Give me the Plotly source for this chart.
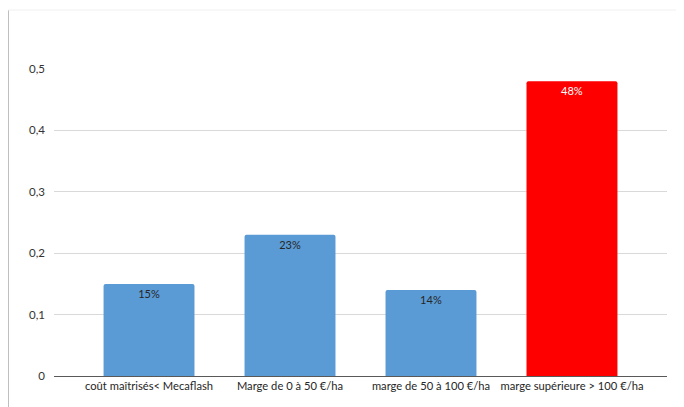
import plotly.graph_objects as go

categories = ["coût maîtrisés< Mecaflash", "Marge de 0 à 50 €/ha", "marge de 50 à 100 €/ha", "marge supérieure > 100 €/ha"]
values = [0.15, 0.23, 0.14, 0.48]
labels = ["15%", "23%", "14%", "48%"]
colors = ["#5B9BD5", "#5B9BD5", "#5B9BD5", "#FF0000"]
label_colors = ["#262626", "#262626", "#262626", "#FFFFFF"]
tick_vals = [0, 0.1, 0.2, 0.3, 0.4, 0.5]
tick_text = ["0", "0,1", "0,2", "0,3", "0,4", "0,5"]

# page body has an 8px margin, so the figure is drawn 8px in and down
W, H = 676, 399
L, R, T, B = 46, 17, 61, 31
pw, ph = W - L - R, H - T - B

fig = go.Figure(go.Bar(
    x=list(range(len(categories))), y=values, text=labels,
    width=0.645,
    marker=dict(color=colors, line=dict(width=0)),
    textposition="inside", insidetextanchor="end",
    textfont=dict(color=label_colors, size=11, family="Lato"),
    cliponaxis=False,
))

fig.update_layout(
    width=W, height=H,
    margin=dict(l=L, r=R, t=T, b=B),
    paper_bgcolor="white", plot_bgcolor="white",
    barcornerradius=2,
    showlegend=False,
    font=dict(family="Lato", size=11, color="#404040"),
    xaxis=dict(range=[-0.674, 3.674], tickvals=list(range(len(categories))), ticktext=categories,
               showgrid=False, showline=True, linecolor="#595959", linewidth=1,
               ticks="", tickfont=dict(size=11.2, color="#262626"), fixedrange=True),
    yaxis=dict(range=[0, 0.5], tickvals=tick_vals, ticktext=tick_text,
               showgrid=True, gridcolor="#D9D9D9", gridwidth=1, zeroline=False,
               showline=False, ticks="", ticklabelstandoff=8,
               tickfont=dict(size=11.5, color="#333333"), fixedrange=True),
    shapes=[
        dict(type="line", xref="paper", yref="paper",
             x0=(0.5 - L) / pw, x1=(0.5 - L) / pw, y0=(T + ph - 2) / ph, y1=(T + ph - H) / ph,
             line=dict(color="#BFBFBF", width=1)),
        dict(type="line", xref="paper", yref="paper",
             x0=(0 - L) / pw, x1=(W - L) / pw, y0=(T + ph - 2) / ph, y1=(T + ph - 2) / ph,
             line=dict(color="#F0F0F0", width=1)),
    ],
)

fig.write_html("out.html")
